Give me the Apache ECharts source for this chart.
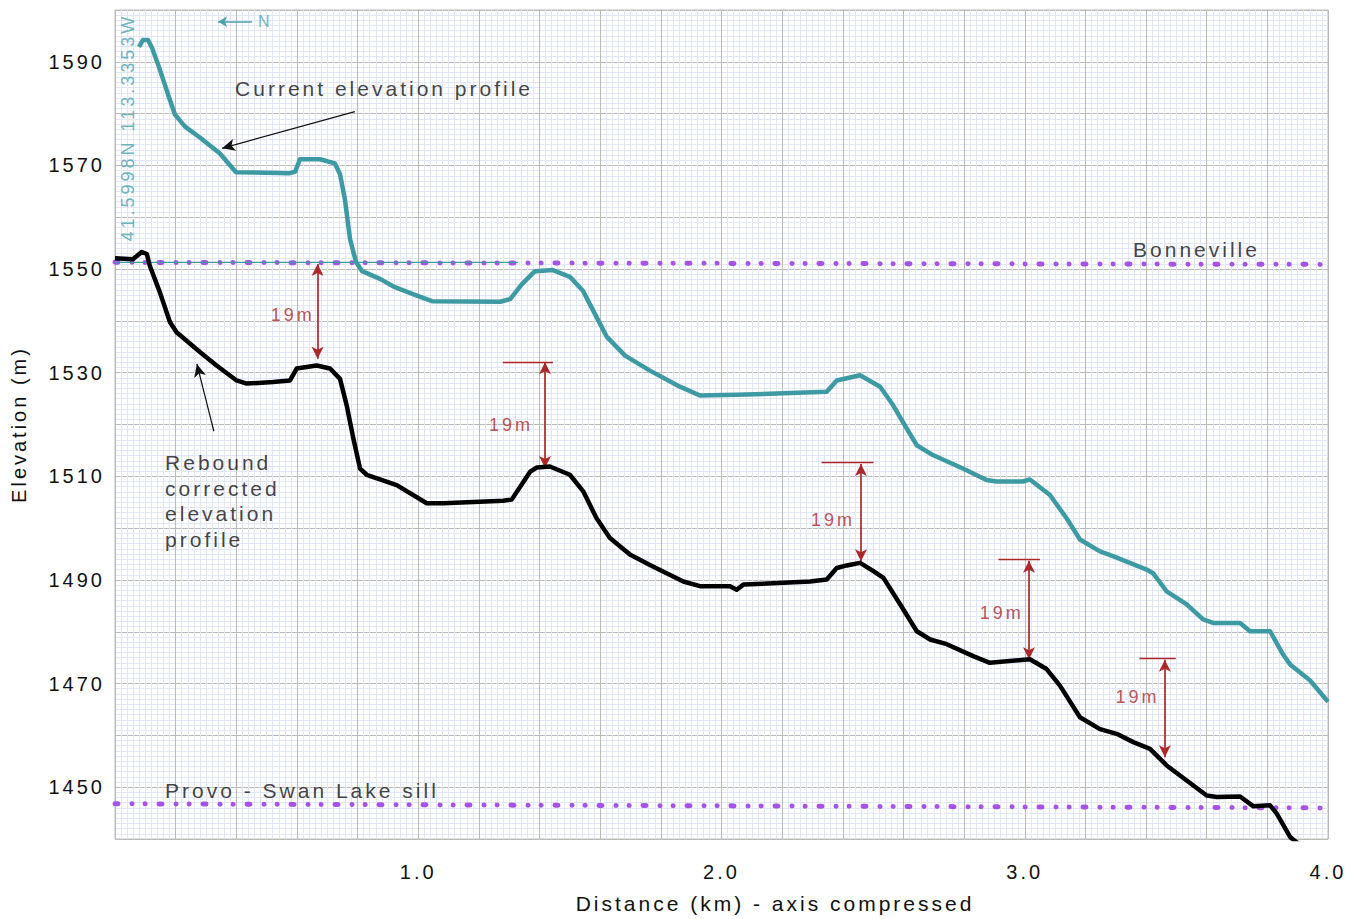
<!DOCTYPE html>
<html>
<head>
<meta charset="utf-8">
<script src="https://cdn.jsdelivr.net/npm/echarts@6/dist/echarts.min.js"></script>
<style>
  html, body { margin: 0; padding: 0; background: #ffffff; }
  #chart { width: 1364px; height: 919px; }
  #chart text { letter-spacing: 3px; }
</style>
</head>
<body>
<div id="chart"></div>
<script>
// ---------- data (distance km, elevation m) ----------
const currentProfile = [
  [0.079,1592.9],[0.092,1594.2],[0.109,1594.2],[0.122,1592.7],[0.148,1588.5],[0.175,1583.7],
  [0.198,1579.8],[0.231,1577.5],[0.280,1575.4],[0.346,1572.3],[0.399,1568.7],[0.577,1568.5],
  [0.594,1568.8],[0.610,1571.2],[0.676,1571.2],[0.725,1570.4],[0.742,1568.3],[0.758,1563.5],
  [0.775,1555.8],[0.795,1551.3],[0.815,1549.6],[0.874,1548.1],[0.923,1546.5],[0.989,1545.0],
  [1.045,1543.8],[1.270,1543.7],[1.303,1544.2],[1.342,1547.1],[1.385,1549.6],[1.444,1549.8],
  [1.500,1548.5],[1.543,1545.8],[1.583,1541.3],[1.622,1536.9],[1.682,1533.3],[1.764,1530.4],
  [1.863,1527.3],[1.929,1525.6],[2.084,1525.8],[2.347,1526.3],[2.380,1528.5],[2.457,1529.5],
  [2.523,1527.3],[2.566,1523.7],[2.611,1519.2],[2.644,1516.0],[2.697,1514.1],[2.796,1511.5],
  [2.874,1509.3],[2.907,1509.0],[2.994,1509.0],[3.017,1509.4],[3.083,1506.4],[3.138,1501.9],
  [3.182,1497.8],[3.248,1495.5],[3.291,1494.6],[3.402,1492.0],[3.423,1491.3],[3.468,1487.8],
  [3.534,1485.3],[3.588,1482.4],[3.621,1481.7],[3.710,1481.7],[3.743,1480.1],[3.809,1480.1],
  [3.852,1475.6],[3.875,1473.7],[3.941,1470.6],[4.000,1466.5]
];
const reboundProfile = [
  [0.000,1552.1],[0.059,1551.9],[0.088,1553.3],[0.105,1552.9],[0.115,1550.6],[0.148,1545.5],
  [0.181,1539.8],[0.203,1537.8],[0.280,1534.0],[0.335,1531.4],[0.401,1528.5],[0.434,1527.9],
  [0.521,1528.2],[0.577,1528.5],[0.599,1530.8],[0.665,1531.4],[0.709,1530.8],[0.742,1528.8],
  [0.764,1523.7],[0.786,1517.3],[0.808,1511.5],[0.830,1510.3],[0.929,1508.3],[1.028,1504.8],
  [1.083,1504.8],[1.280,1505.3],[1.308,1505.5],[1.369,1510.9],[1.391,1511.7],[1.434,1511.9],
  [1.500,1510.3],[1.544,1507.1],[1.588,1501.9],[1.632,1498.1],[1.698,1494.9],[1.764,1492.9],
  [1.874,1489.7],[1.929,1488.8],[2.028,1488.8],[2.050,1488.1],[2.072,1489.1],[2.292,1489.7],
  [2.347,1490.1],[2.380,1492.3],[2.413,1492.8],[2.457,1493.3],[2.501,1491.7],[2.534,1490.4],
  [2.589,1485.3],[2.644,1480.1],[2.688,1478.5],[2.743,1477.6],[2.830,1475.3],[2.885,1474.0],
  [3.017,1474.7],[3.072,1472.8],[3.116,1469.6],[3.182,1463.5],[3.248,1461.2],[3.303,1460.3],
  [3.358,1458.7],[3.413,1457.4],[3.468,1454.2],[3.534,1451.3],[3.600,1448.4],[3.633,1448.1],
  [3.710,1448.2],[3.754,1446.3],[3.809,1446.5],[3.831,1444.9],[3.875,1440.4],[3.908,1438.8]
];
const currentRefLine = [[0.000,1551.3],[1.329,1551.3]];
const bonnevilleLine = [[0.000,1551.3],[4.000,1550.9]];
const provoLine = [[0.000,1446.8],[4.000,1446.0]];

// 19 m offsets: [distance, top elevation, bottom elevation]
const offsetArrows = [
  [0.668,1551.0,1532.7],[1.418,1532.0,1511.6],[2.460,1512.4,1493.6],
  [3.014,1493.7,1474.7],[3.462,1474.6,1455.8]
];
// reference ticks: [from distance, to distance, elevation]
const offsetTicks = [
  [1.279,1.444,1532.1],[2.330,2.501,1512.8],[2.913,3.050,1493.9],[3.378,3.498,1474.8]
];
const offsetLabels = [
  [0.586,1541.2],[1.306,1520.0],[2.368,1501.6],[2.924,1483.7],[3.372,1467.5]
];
const offsetText = '19m';

// axis ticks
const xMin = 0, xMax = 4, xStep = 0.2;
const yMin = 1440, yMax = 1600, yStep = 10;
const xTickLabels = [1.0, 2.0, 3.0, 4.0];
const yTickLabels = [1450, 1470, 1490, 1510, 1530, 1550, 1570, 1590];

// text notes: [text, distance, elevation]
const notes = [
  ['Current elevation profile', 0.396, 1584.8],
  ['Rebound\ncorrected\nelevation\nprofile', 0.165, 1515.1],
  ['Bonneville', 3.357, 1553.8],
  ['Provo - Swan Lake sill', 0.165, 1449.4]
];
const coordText = ['41.5998N 113.3353W', 0.043, 1577.3];
const northText = ['N', 0.4716, 1597.75];
const northArrow = [[0.452,1597.75],[0.340,1597.75]];
const pointerArrows = [
  [[0.791,1580.4],[0.353,1573.3]],
  [[0.326,1518.7],[0.270,1531.7]]
];

// ---------- styles ----------
const FONT = 'Liberation Sans';
const TEXT = '#111111';
const TEAL = '#3d9aa3';
const TEAL_TXT = '#4aa2ad';
const RED = '#ad2628';
const PURPLE = '#a453e6';

const chart = echarts.init(document.getElementById('chart'), null, { renderer: 'svg' });

const noteData = notes.map(n => ({
  value: [n[1], n[2]],
  label: {
    formatter: n[0],
    align: 'left',
    verticalAlign: n[0].indexOf('\n') >= 0 ? 'top' : 'middle',
    lineHeight: 25.5
  }
}));
noteData.push({
  value: [coordText[1], coordText[2]],
  label: { formatter: coordText[0], rotate: 90, align: 'center', verticalAlign: 'middle', color: TEAL_TXT, fontSize: 18 }
});
noteData.push({
  value: [northText[1], northText[2]],
  label: { formatter: northText[0], align: 'left', verticalAlign: 'middle', color: TEAL_TXT, fontSize: 16 }
});
offsetLabels.forEach(p => noteData.push({
  value: p,
  label: { formatter: offsetText, align: 'center', verticalAlign: 'middle', color: RED, fontSize: 18 }
}));

const markLines = [];
offsetArrows.forEach(a => markLines.push([
  { coord: [a[0], a[1]], symbol: 'arrow', symbolSize: [9, 12], lineStyle: { color: RED, width: 1.7, type: 'solid' } },
  { coord: [a[0], a[2]], symbol: 'arrow', symbolSize: [9, 12] }
]));
offsetTicks.forEach(t => markLines.push([
  { coord: [t[0], t[2]], symbol: 'none', lineStyle: { color: RED, width: 1.3, type: 'solid' } },
  { coord: [t[1], t[2]], symbol: 'none' }
]));
pointerArrows.forEach(p => markLines.push([
  { coord: p[0], symbol: 'none', lineStyle: { color: '#111', width: 1.2, type: 'solid' } },
  { coord: p[1], symbol: 'arrow', symbolSize: [9, 13] }
]));
markLines.push([
  { coord: northArrow[0], symbol: 'none', lineStyle: { color: TEAL_TXT, width: 1.6, type: 'solid' } },
  { coord: northArrow[1], symbol: 'arrow', symbolSize: [8, 9] }
]);

const dotDash = [3, 14, 0.1, 13, 0.1, 13.8];

const option = {
  animation: false,
  backgroundColor: '#ffffff',
  textStyle: { fontFamily: FONT, color: TEXT },
  grid: { left: 115, right: 36, top: 10, bottom: 77, show: true, borderColor: '#bdbdbd', borderWidth: 1, backgroundColor: 'transparent' },
  xAxis: {
    type: 'value', min: xMin, max: xMax, interval: xStep,
    axisLine: { show: false }, axisTick: { show: false },
    axisLabel: {
      fontSize: 20, color: TEXT, fontFamily: FONT, margin: 23, showMaxLabel: true,
      formatter: v => xTickLabels.some(t => Math.abs(t - v) < 1e-6) ? v.toFixed(1) : ''
    },
    splitLine: { show: true, lineStyle: { color: '#bababa', width: 1 } },
    minorTick: { show: false, splitNumber: 10 },
    minorSplitLine: { show: true, lineStyle: { color: '#e2e7f7', width: 1 } },
    name: 'Distance (km) - axis compressed', nameLocation: 'middle', nameGap: 54,
    nameTextStyle: { fontSize: 21, color: TEXT, fontFamily: FONT, padding: [0, 0, 0, 107] }
  },
  yAxis: {
    type: 'value', min: yMin, max: yMax, interval: yStep,
    axisLine: { show: false }, axisTick: { show: false },
    axisLabel: {
      fontSize: 20, color: TEXT, fontFamily: FONT, margin: 10,
      formatter: v => yTickLabels.indexOf(Math.round(v)) >= 0 ? String(Math.round(v)) : ''
    },
    splitLine: { show: true, lineStyle: { color: '#bababa', width: 1 } },
    minorTick: { show: false, splitNumber: 10 },
    minorSplitLine: { show: true, lineStyle: { color: '#e2e7f7', width: 1 } },
    name: 'Elevation (m)', nameLocation: 'middle', nameGap: 86,
    nameTextStyle: { fontSize: 20, color: TEXT, fontFamily: FONT }
  },
  series: [
    { name: 'Bonneville', type: 'line', data: bonnevilleLine, symbol: 'none', z: 2,
      lineStyle: { color: PURPLE, width: 5, type: dotDash, cap: 'round' } },
    { name: 'Provo', type: 'line', data: provoLine, symbol: 'none', z: 2,
      lineStyle: { color: PURPLE, width: 5, type: dotDash, cap: 'round' } },
    { name: 'Current level', type: 'line', data: currentRefLine, symbol: 'none', z: 3,
      lineStyle: { color: TEAL, width: 1.4 } },
    { name: 'Current elevation profile', type: 'line', data: currentProfile, symbol: 'none', z: 4,
      lineStyle: { color: TEAL, width: 4.5, join: 'round' } },
    { name: 'Rebound corrected elevation profile', type: 'line', data: reboundProfile, symbol: 'none', z: 5,
      lineStyle: { color: '#000000', width: 4.5, join: 'round' } },
    { name: 'annotations', type: 'scatter', symbolSize: 0, z: 6, silent: true,
      data: noteData,
      label: { show: true, position: 'inside', fontSize: 21, color: TEXT, fontFamily: FONT },
      markLine: { silent: true, animation: false, label: { show: false }, symbol: 'none', data: markLines }
    }
  ]
};
chart.setOption(option);
</script>
</body>
</html>
